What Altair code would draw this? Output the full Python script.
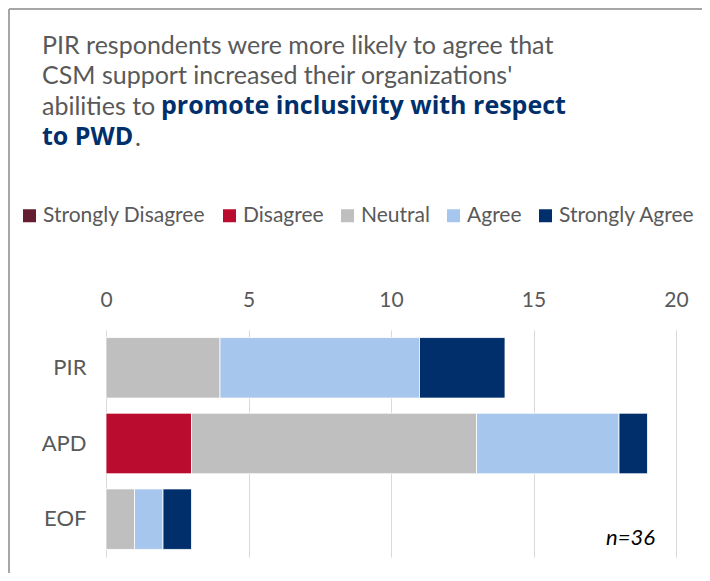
import altair as alt
import pandas as pd

groups = ["PIR", "APD", "EOF"]
responses = ["Strongly Disagree", "Disagree", "Neutral", "Agree", "Strongly Agree"]
colors = ["#651D32", "#BA0C2F", "#BFBFBF", "#A7C6ED", "#002F6C"]
strongly_disagree = [0, 0, 0]
disagree = [0, 3, 0]
neutral = [4, 10, 1]
agree = [7, 5, 1]
strongly_agree = [3, 1, 1]
x_ticks = [0, 5, 10, 15, 20]

title_lines = [
    "PIR respondents were more likely to agree that",
    "CSM support increased their organizations'",
]
line3_plain = "abilities to "
line3_bold = "promote inclusivity with respect"
line4_bold = "to PWD"
line4_plain = "."
note = "n=36"

series = [strongly_disagree, disagree, neutral, agree, strongly_agree]
rows = []
for ri, (resp, vals) in enumerate(zip(responses, series)):
    for g, v in zip(groups, vals):
        rows.append({"group": g, "response": resp, "count": v, "order": ri})
df = pd.DataFrame(rows)

FONT = "Lato"
BOLDFONT = "Open Sans"
GRAY = "#595959"
BLUE = "#002F6C"

bars = alt.Chart(df).mark_bar(stroke="white", strokeWidth=0.8).encode(
    x=alt.X("count:Q", stack="zero",
            scale=alt.Scale(domain=[0, 20], nice=False),
            axis=alt.Axis(orient="top", values=x_ticks, title=None, domain=False,
                          ticks=False, grid=True, gridColor="#D9D9D9",
                          labelFontSize=21, labelColor=GRAY, labelFont=FONT,
                          labelPadding=20, labelFlush=False)),
    y=alt.Y("group:N", sort=groups,
            scale=alt.Scale(paddingInner=0.2, paddingOuter=0.1),
            axis=alt.Axis(title=None, domain=False, ticks=False,
                          labelFontSize=22, labelColor=GRAY, labelFont=FONT,
                          labelPadding=20)),
    color=alt.Color("response:N",
                    scale=alt.Scale(domain=responses, range=colors),
                    legend=alt.Legend(title=None, orient="none", direction="horizontal",
                                      legendX=-87, legendY=-125,
                                      symbolType="square", symbolSize=169,
                                      symbolStrokeWidth=0, symbolOffset=0,
                                      labelFontSize=21, labelColor=GRAY, labelFont=FONT,
                                      labelOffset=3, columnPadding=13,
                                      labelLimit=300)),
    order=alt.Order("order:Q"),
)

one = pd.DataFrame({"k": [0]})

def txt(s, x, y, color=GRAY, weight="normal", size=25, align="left", style="normal", font=FONT):
    return alt.Chart(one).mark_text(
        text=s, align=align, baseline="middle", font=font, fontSize=size,
        fontWeight=weight, color=color, fontStyle=style,
    ).encode(x=alt.value(x), y=alt.value(y))

texts = [
    txt(title_lines[0], -64, -284),
    txt(title_lines[1], -64, -254),
    txt(line3_plain, -64, -223),
    txt(line3_bold, 55, -224, color=BLUE, weight="bold", size=25, font=BOLDFONT),
    txt(line4_bold, -64, -193, color=BLUE, weight="bold", size=25, font=BOLDFONT),
    txt(line4_plain, 29, -192),
    txt(note, 549, 208, color="#000000", size=22, align="right", style="italic"),
]

border_left = alt.Chart(one).mark_rule(color="#A6A6A6", strokeWidth=2).encode(
    x=alt.value(-97), y=alt.value(-321), y2=alt.value(260))
border_top = alt.Chart(one).mark_rule(color="#A6A6A6", strokeWidth=2).encode(
    x=alt.value(-97), x2=alt.value(620), y=alt.value(-321))

chart = alt.layer(bars, border_left, border_top, *texts).properties(
    width=570, height=227,
    background="white",
    autosize=alt.AutoSizeParams(type="none"),
    padding={"left": 98, "top": 322, "right": 26, "bottom": 16},
).configure_view(strokeWidth=0)

chart.save("out.html", embed_options={"renderer": "svg", "actions": False})
